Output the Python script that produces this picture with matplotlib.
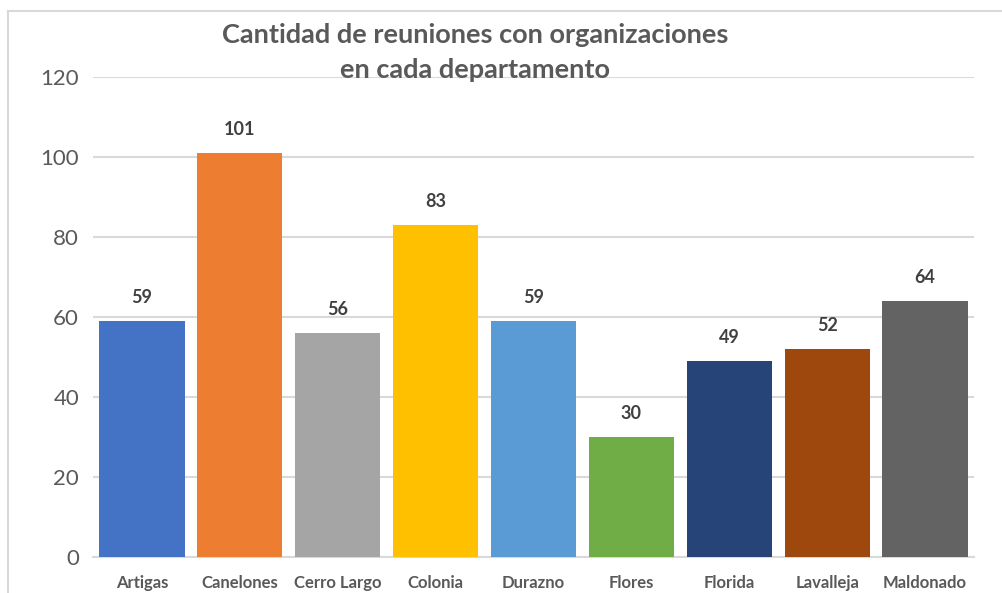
import matplotlib
matplotlib.use("Agg")
import matplotlib.pyplot as plt
from matplotlib.lines import Line2D

# datos
departamentos = ["Artigas", "Canelones", "Cerro Largo", "Colonia", "Durazno",
                 "Flores", "Florida", "Lavalleja", "Maldonado"]
reuniones = [59, 101, 56, 83, 59, 30, 49, 52, 64]
colores = ["#4472C4", "#ED7D31", "#A5A5A5", "#FFC000", "#5B9BD5",
           "#70AD47", "#264478", "#9E480E", "#636363"]
yticks = [0, 20, 40, 60, 80, 100, 120]

GRIS = "#595959"
GRID = "#D9D9D9"

plt.rcParams["font.family"] = ["Lato", "DejaVu Sans"]

W, H = 1002, 593
fig = plt.figure(figsize=(W / 100, H / 100), dpi=100)
ax = fig.add_axes([93 / W, 1 - 557 / H, (974 - 93) / W, (557 - 77) / H])

x = list(range(len(departamentos)))
ax.bar(x, reuniones, width=0.87, color=colores, zorder=3)
ax.set_xlim(-0.5, len(departamentos) - 0.5)
ax.set_ylim(0, 120)
ax.set_yticks(yticks)
ax.set_yticklabels([str(t) for t in yticks], fontsize=16, color=GRIS)
ax.set_xticks(x)
ax.set_xticklabels(departamentos, fontsize=12, fontweight="bold", color=GRIS)
ax.tick_params(axis="x", length=0, pad=13)
ax.tick_params(axis="y", length=0, pad=10)
ax.grid(axis="y", color=GRID, linewidth=1.5, zorder=0)
for s in ["top", "right", "left"]:
    ax.spines[s].set_visible(False)
ax.spines["bottom"].set_color(GRID)
ax.spines["bottom"].set_linewidth(1.5)

for xi, v in zip(x, reuniones):
    ax.annotate(str(v), (xi, v), xytext=(0, 11), textcoords="offset points",
                ha="center", va="bottom", fontsize=13, fontweight="bold",
                color="#404040")

fig.text(475 / W, 1 - 35 / H, "Cantidad de reuniones con organizaciones",
         ha="center", va="center", fontsize=19.5, fontweight="bold", color=GRIS)
fig.text(475 / W, 1 - 70 / H, "en cada departamento",
         ha="center", va="center", fontsize=19.5, fontweight="bold", color=GRIS)

# borde del area del grafico
fig.add_artist(Line2D([8 / W, 8 / W], [0, 1 - 11 / H], transform=fig.transFigure,
                      color=GRID, linewidth=1.5))
fig.add_artist(Line2D([8 / W, 1], [1 - 11 / H, 1 - 11 / H], transform=fig.transFigure,
                      color=GRID, linewidth=1.5))

fig.savefig("out.png", dpi=100)
